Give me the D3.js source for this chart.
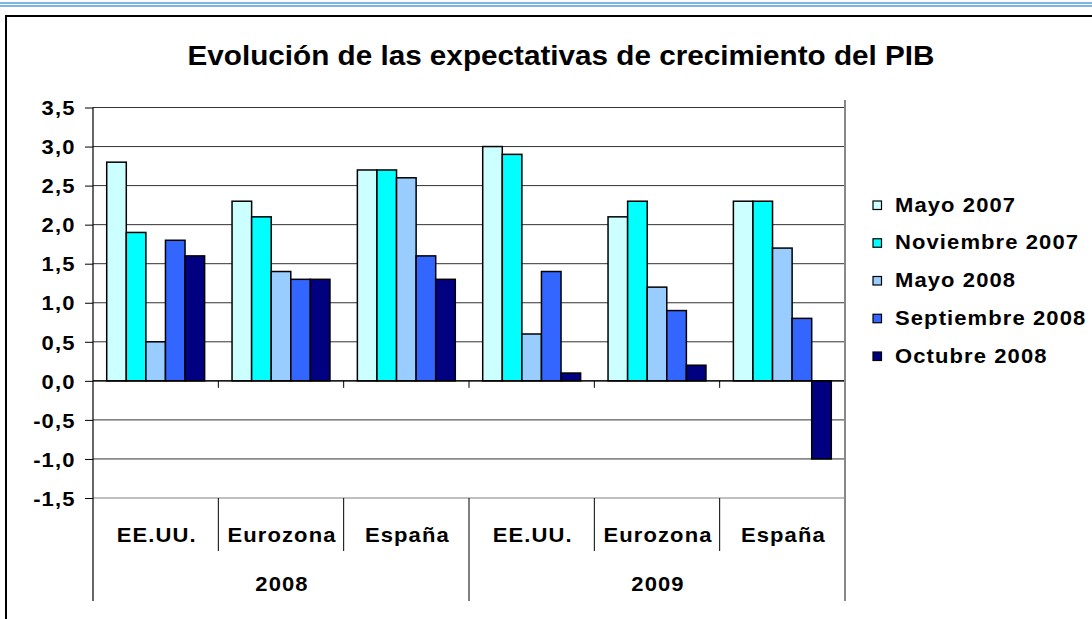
<!DOCTYPE html>
<html>
<head>
<meta charset="utf-8">
<script src="https://cdn.jsdelivr.net/npm/d3@7"></script>
<style>
body { margin: 0; background: #fff; }
text { font-family: "Liberation Sans", Arial, sans-serif; font-weight: bold; fill: #000; }
.lbl { font-size: 20px; letter-spacing: 1px; }
</style>
</head>
<body>
<div id="chart"></div>
<script>
// data
var years = ["2008", "2009"];
var regions = ["EE.UU.", "Eurozona", "España"];
var series = ["Mayo 2007", "Noviembre 2007", "Mayo 2008", "Septiembre 2008", "Octubre 2008"];
var colors = ["#ccffff", "#00ffff", "#99ccff", "#3366ff", "#000080"];
// one row per year/region, one value per series
var values = [
  [2.8, 1.9, 0.5, 1.8, 1.6],
  [2.3, 2.1, 1.4, 1.3, 1.3],
  [2.7, 2.7, 2.6, 1.6, 1.3],
  [3.0, 2.9, 0.6, 1.4, 0.1],
  [2.1, 2.3, 1.2, 0.9, 0.2],
  [2.3, 2.3, 1.7, 0.8, -1.0]
];
var yTicks = [-1.5, -1.0, -0.5, 0.0, 0.5, 1.0, 1.5, 2.0, 2.5, 3.0, 3.5];

var width = 1092, height = 619,
    plot = {left: 93, right: 845, top: 107.5, bottom: 498},
    stretch = 1.1;

// text in the original is a little wider than Arial, so stretch it
function place(sel, x, y, s) {
  sel.attr("x", 0).attr("y", 0)
    .attr("transform", `translate(${x},${y}) scale(${s || stretch},1)`);
}

var svg = d3.select("#chart").append("svg")
  .attr("width", width)
  .attr("height", height);

// top decoration lines
svg.append("rect").attr("x", 0).attr("y", 2).attr("width", width).attr("height", 2).attr("fill", "#7db5e3");
svg.append("rect").attr("x", 0).attr("y", 5).attr("width", width).attr("height", 2).attr("fill", "#7db5e3");

// chart frame
svg.append("rect")
  .attr("x", 6).attr("y", 16)
  .attr("width", 1200).attr("height", 800)
  .attr("fill", "none").attr("stroke", "#000").attr("stroke-width", 2);

svg.append("text")
  .attr("text-anchor", "middle")
  .style("font-size", "28px")
  .text("Evolución de las expectativas de crecimiento del PIB")
  .call(place, 561, 65, 1.06);

var keys = [];
years.forEach(function(y) { regions.forEach(function(r) { keys.push(y + "|" + r); }); });

var x0 = d3.scaleBand().domain(keys).range([plot.left, plot.right]);
var x1 = d3.scaleBand().domain(series).range([0, x0.bandwidth()]).paddingOuter(0.7);
var y = d3.scaleLinear().domain([-1.5, 3.5]).range([plot.bottom, plot.top]);

// gridlines
svg.append("g").selectAll("line")
  .data(yTicks)
  .enter().append("line")
  .attr("x1", plot.left).attr("x2", plot.right)
  .attr("y1", d => y(d)).attr("y2", d => y(d))
  .attr("stroke", d => d === -1.5 ? "#808080" : "#333")
  .attr("stroke-width", 1);

// bars
var group = svg.append("g").selectAll("g")
  .data(values)
  .enter().append("g")
  .attr("transform", (d, i) => `translate(${x0(keys[i])},0)`);

group.selectAll("rect")
  .data(d => d.map((v, j) => ({s: series[j], v: v, c: colors[j]})))
  .enter().append("rect")
  .attr("x", d => x1(d.s))
  .attr("width", x1.bandwidth())
  .attr("y", d => y(Math.max(0, d.v)))
  .attr("height", d => Math.abs(y(d.v) - y(0)))
  .attr("fill", d => d.c)
  .attr("stroke", "#000")
  .attr("stroke-width", 1.5);

// zero axis with ticks
svg.append("line")
  .attr("x1", plot.left).attr("x2", plot.right)
  .attr("y1", y(0)).attr("y2", y(0))
  .attr("stroke", "#000").attr("stroke-width", 1.2);
svg.append("g").selectAll("line")
  .data(keys.slice(1))
  .enter().append("line")
  .attr("x1", d => x0(d)).attr("x2", d => x0(d))
  .attr("y1", y(0)).attr("y2", y(0) + 7)
  .attr("stroke", "#000");

// y axis
var yAxis = d3.axisLeft(y).tickValues(yTicks).tickSize(8).tickSizeOuter(0)
  .tickFormat(d => d3.format(".1f")(d).replace(".", ",").replace("−", "-"));
var ya = svg.append("g")
  .attr("transform", `translate(${plot.left},0)`)
  .call(yAxis);
ya.select(".domain").remove();
ya.selectAll(".tick line").attr("stroke", "#000");
ya.selectAll("text").attr("class", "lbl").attr("dy", "0.36em")
  .each(function() { d3.select(this).call(place, -17.5, 0); });
svg.append("line")
  .attr("x1", plot.left).attr("x2", plot.left)
  .attr("y1", plot.top).attr("y2", 601)
  .attr("stroke", "#000").attr("stroke-width", 1.2);

// right border of plot
svg.append("line")
  .attr("x1", plot.right).attr("x2", plot.right)
  .attr("y1", 100).attr("y2", 601)
  .attr("stroke", "#888").attr("stroke-width", 2);

// category labels
svg.append("g").selectAll("text")
  .data(keys)
  .enter().append("text")
  .attr("class", "lbl")
  .attr("text-anchor", "middle")
  .text(d => d.split("|")[1])
  .each(function(d) { d3.select(this).call(place, x0(d) + x0.bandwidth() / 2 + 1, 542); });

// separators between regions
svg.append("g").selectAll("line")
  .data(keys.filter((d, i) => i % 3 !== 0))
  .enter().append("line")
  .attr("x1", d => x0(d)).attr("x2", d => x0(d))
  .attr("y1", plot.bottom).attr("y2", 551)
  .attr("stroke", "#000");

// separator between years
svg.append("line")
  .attr("x1", x0(keys[3])).attr("x2", x0(keys[3]))
  .attr("y1", plot.bottom).attr("y2", 601)
  .attr("stroke", "#000");

// year labels
svg.append("g").selectAll("text")
  .data(years)
  .enter().append("text")
  .attr("class", "lbl")
  .attr("text-anchor", "middle")
  .text(d => d)
  .each(function(d, i) { d3.select(this).call(place, x0(keys[i * 3]) + x0.bandwidth() * 1.5 + 1, 591); });

// legend
var legend = svg.append("g").selectAll("g")
  .data(series)
  .enter().append("g")
  .attr("transform", (d, i) => `translate(873,${211.5 + i * 37.75})`);
legend.append("rect")
  .attr("x", 0).attr("y", -10.5)
  .attr("width", 8.5).attr("height", 8.5)
  .attr("fill", (d, i) => colors[i])
  .attr("stroke", "#000").attr("stroke-width", 1.2);
legend.append("text")
  .attr("class", "lbl")
  .text(d => d)
  .call(place, 22, 0);
</script>
</body>
</html>
